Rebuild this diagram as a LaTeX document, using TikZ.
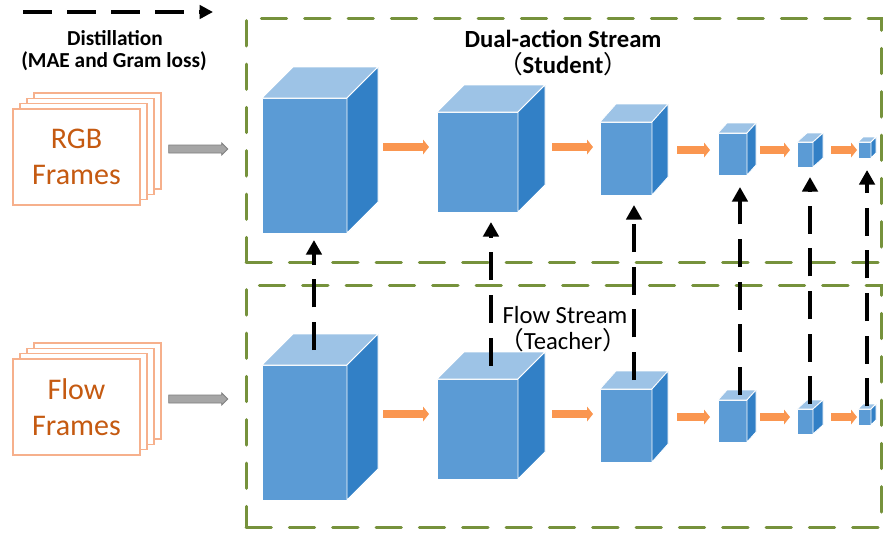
\documentclass[tikz,border=0pt]{standalone}
\usepackage{fontspec}
\setmainfont{Carlito}
\newfontfamily\cjk{Noto Sans CJK SC}
\usetikzlibrary{arrows.meta,fit,calc}
\definecolor{grn}{RGB}{118,146,60}
\definecolor{cfront}{RGB}{91,155,213}
\definecolor{ctop}{RGB}{157,195,230}
\definecolor{cside}{RGB}{50,128,198}
\definecolor{org}{RGB}{250,150,80}
\definecolor{fbord}{RGB}{246,176,140}
\definecolor{ftext}{RGB}{197,90,17}
\definecolor{gfill}{RGB}{166,166,166}
\definecolor{gbord}{RGB}{127,127,127}
\tikzset{
 cubefront/.style={fill=cfront, draw=white, line width=0.6pt, inner sep=0pt, outer sep=0pt},
 cubetop/.style={fill=ctop, draw=white, line width=0.6pt, line join=round},
 cubeside/.style={fill=cside, draw=white, line width=0.6pt, line join=round},
 gbox/.style={draw=grn, line width=2.25pt, dash pattern=on 19pt off 13.5pt, line cap=round, inner sep=0pt},
 oarrow/.style={draw=org, line width=6pt, -{Triangle[width=11pt,length=4.5pt]}},
 darrow/.style={draw=black, line width=3pt, dash pattern=on 21pt off 11pt, -{Triangle[width=11.5pt,length=11pt]}},
 frame/.style={draw=fbord, fill=white, line width=1.1pt, minimum width=95.25pt, minimum height=72pt, inner sep=0pt},
 ftxt/.style={text=ftext, font=\fontsize{22.5}{27}\selectfont, align=center},
 garrow/.style={fill=gfill, draw=gbord, line width=0.6pt},
 lbold/.style={font=\bfseries\fontsize{16}{19}\selectfont, anchor=base},
 ttl/.style={font=\bfseries\fontsize{18.5}{21}\selectfont, anchor=base},
 ttlr/.style={font=\fontsize{18.5}{21}\selectfont, anchor=base},
}
\newcommand\mycube[7]{%
 \node[cubefront, fit={(#2,#3)(#4,#5)}] (#1) {};
 \path[cubetop] (#1.north west) -- ++(#6,-#7) -- ++(#4-#2,0) -- (#1.north east) -- cycle;
 \path[cubeside] (#1.north east) -- ++(#6,-#7) -- ++(0,#5-#3) -- (#1.south east) -- cycle;
}
\newcommand\framestack[3]{% prefix, y-shift, text
 \node[frame] (#1d) at (97.5,{157-16+#2}) {};
 \node[frame] (#1c) at (90.5,{157-10.67+#2}) {};
 \node[frame] (#1b) at (83.5,{157-5.33+#2}) {};
 \node[frame, ftxt] (#1a) at (76.5,{157+#2}) {#3};
 \coordinate (#1g) at ($(#1a.east)+(28,-8)$);
 \path[garrow] ($(#1g)+(0,-4)$) -- ++(53,0) -- ++(0,-2) -- ++(6,6) -- ++(-6,6) -- ++(0,-2) -- ++(-53,0) -- cycle;
}
\begin{document}
\begin{tikzpicture}[x=0.75pt,y=-0.75pt]
\useasboundingbox (0,0) rectangle (884,533);
\fill[white] (0,0) rectangle (884,533);

% legend
\coordinate (l1) at (23,12);
\coordinate (l2) at (213,12);
\draw[draw=black, line width=3pt, dash pattern=on 21.75pt off 11.25pt, -{Triangle[width=10pt,length=10pt]}] (l1) -- (l2);
\node[lbold] (dist) at (115,45) {Distillation};
\node[lbold] (mae) at (114,67) {(MAE and Gram loss)};

% stream boxes
\node[gbox, fit={(246,18)(881,262)}] (stu) {};
\node[gbox, fit={(246,285)(881,527)}] (tea) {};

% input frames
\framestack{r}{0}{RGB\\Frames}
\framestack{f}{250}{Flow\\Frames}

% student cubes
\mycube{s1}{262}{98}{347}{233}{31}{31}
\mycube{s2}{437}{112}{518}{212}{27}{27}
\mycube{s3}{600}{122}{652}{195}{16}{18}
\mycube{s4}{718}{133}{747}{175}{9}{10}
\mycube{s5}{797}{142}{813}{167}{10}{9}
\mycube{s6}{858}{142}{871}{158}{5}{5}
% teacher cubes
\mycube{b1}{262}{365}{347}{500}{31}{31}
\mycube{b2}{437}{379}{518}{479}{27}{27}
\mycube{b3}{600}{389}{652}{462}{16}{18}
\mycube{b4}{718}{400}{747}{442}{9}{10}
\mycube{b5}{797}{409}{813}{434}{10}{9}
\mycube{b6}{858}{409}{871}{425}{5}{5}

% orange arrows
\draw[oarrow, shorten <=27pt, shorten >=6pt] (s1.east |- 0,147) -- (s2.west |- 0,147);
\draw[oarrow, shorten <=25.5pt, shorten >=5.25pt] (s2.east |- 0,147) -- (s3.west |- 0,147);
\draw[oarrow, shorten <=18.75pt, shorten >=6pt] (s3.east |- 0,150) -- (s4.west |- 0,150);
\draw[oarrow, shorten <=9.75pt, shorten >=5.25pt] (s4.east |- 0,150) -- (s5.west |- 0,150);
\draw[oarrow, shorten <=13.5pt, shorten >=0.75pt] (s5.east |- 0,150) -- (s6.west |- 0,150);
\draw[oarrow, shorten <=27pt, shorten >=6pt] (b1.east |- 0,414) -- (b2.west |- 0,414);
\draw[oarrow, shorten <=25.5pt, shorten >=5.25pt] (b2.east |- 0,414) -- (b3.west |- 0,414);
\draw[oarrow, shorten <=18.75pt, shorten >=6pt] (b3.east |- 0,417) -- (b4.west |- 0,417);
\draw[oarrow, shorten <=9.75pt, shorten >=5.25pt] (b4.east |- 0,417) -- (b5.west |- 0,417);
\draw[oarrow, shorten <=13.5pt, shorten >=0.75pt] (b5.east |- 0,417) -- (b6.west |- 0,417);

% titles
\node[ttl] (dual) at (563,47) {Dual-action Stream};
\node[ttl] (stud) at (563,73) {{\cjk\mdseries （}Student{\cjk\mdseries ）}};
\node[ttlr] (flow) at (565,323) {Flow Stream};
\node[ttlr] (teach) at (563,349) {{\cjk （}Teacher{\cjk ）}};

% distillation arrows
\draw[darrow] ([xshift=7.1pt,yshift=11.25pt]b1.north) -- ([xshift=7.1pt,yshift=-5.25pt]s1.south);
\draw[darrow] ([xshift=10.1pt,yshift=10.1pt]b2.north) -- ([xshift=10.1pt,yshift=-7.5pt]s2.south);
\draw[darrow] ([xshift=6pt,yshift=6.75pt]b3.north) -- ([xshift=6pt,yshift=-7.5pt]s3.south);
\draw[darrow] ([xshift=5.6pt,yshift=3.75pt]b4.north) -- ([xshift=5.6pt,yshift=-9pt]s4.south);
\draw[darrow] ([xshift=3.75pt,yshift=3.4pt]b5.north) -- ([xshift=3.75pt,yshift=-7.5pt]s5.south);
\draw[darrow] ([xshift=1.9pt,yshift=1.9pt]b6.north) -- ([xshift=1.9pt,yshift=-9pt]s6.south);
\end{tikzpicture}
\end{document}
